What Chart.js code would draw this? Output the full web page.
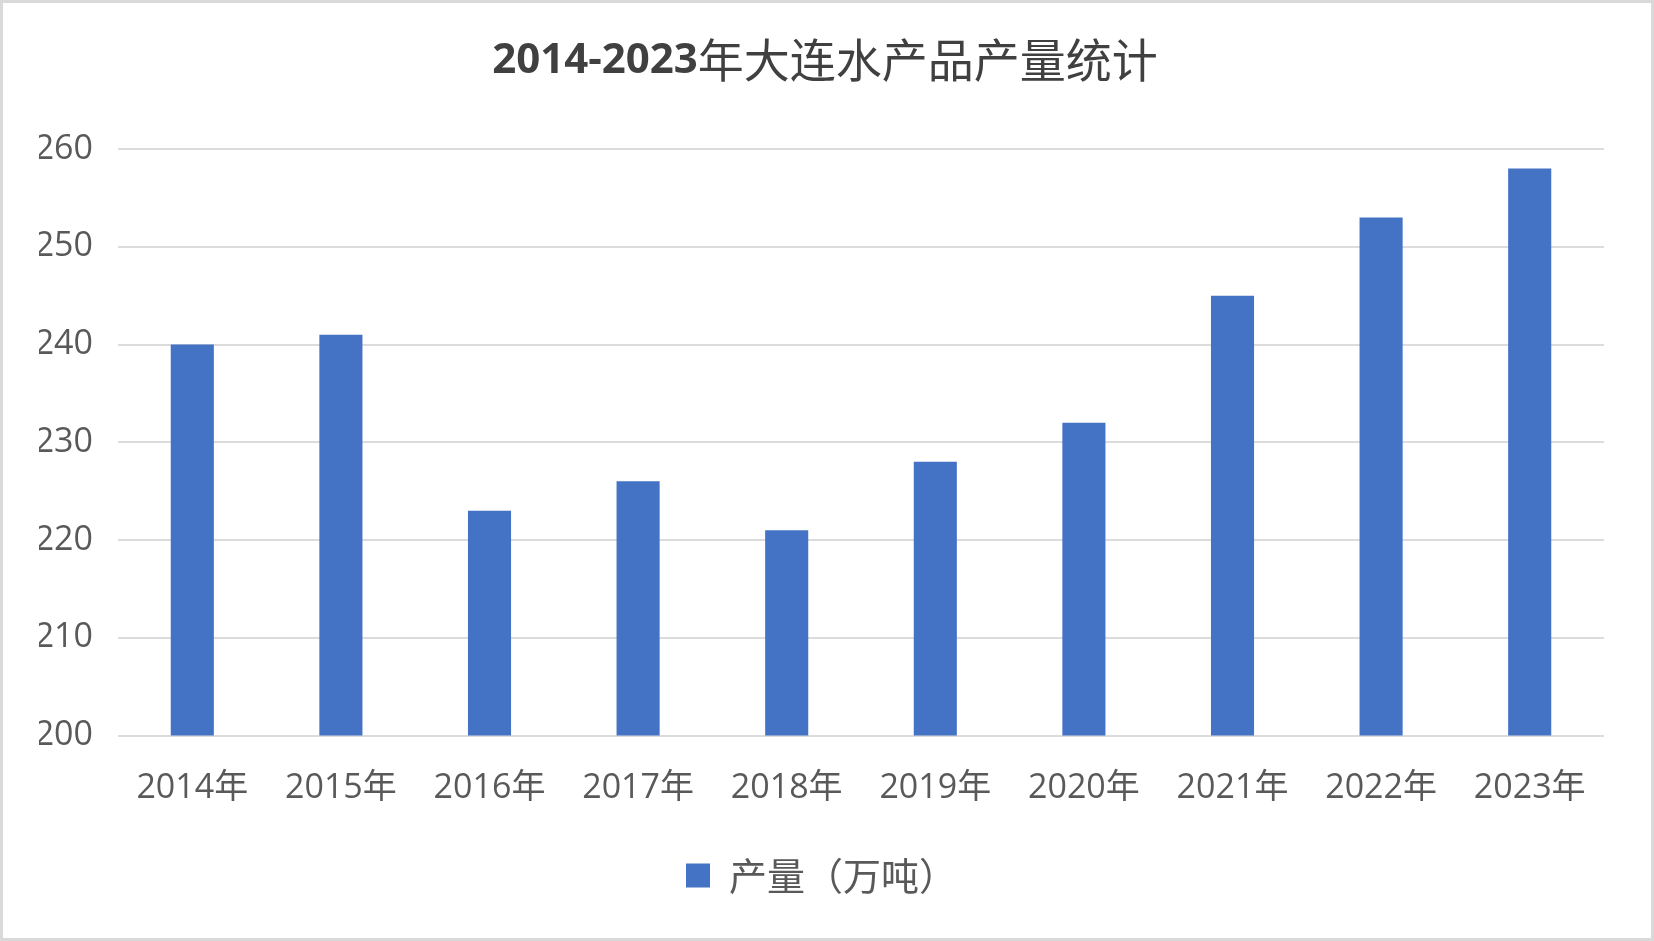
<!DOCTYPE html>
<html>
<head>
<meta charset="utf-8">
<script src="https://cdn.jsdelivr.net/npm/chart.js@4/dist/chart.umd.min.js"></script>
<style>
  html, body { margin: 0; padding: 0; background: #ffffff; }
  #wrap { width: 1654px; height: 941px; box-sizing: border-box; border: 3px solid #d9d9d9; background: #fff; }
  #c { display: block; }
</style>
</head>
<body>
<div id="wrap"><canvas id="c" width="1648" height="935"></canvas></div>
<script>
const categories = ['2014年', '2015年', '2016年', '2017年', '2018年', '2019年', '2020年', '2021年', '2022年', '2023年'];
const production = [240, 241, 223, 226, 221, 228, 232, 245, 253, 258];
const seriesName = '产量（万吨）';
const titleNumber = '2014-2023';
const titleText = '年大连水产品产量统计';
const yMin = 200, yMax = 260, yStep = 10;

const FONT = "'Open Sans', 'Noto Sans CJK SC', sans-serif";
const CJK = "'Noto Sans CJK SC', sans-serif";

const titlePlugin = {
  id: 'twoPartTitle',
  afterDraw(chart) {
    const ctx = chart.ctx;
    ctx.save();
    ctx.textBaseline = 'middle';
    ctx.fillStyle = '#404040';
    const f1 = "bold 42px 'Open Sans', sans-serif";
    const f2 = "46px " + CJK;
    ctx.font = f1; const w1 = ctx.measureText(titleNumber).width;
    ctx.font = f2; const w2 = ctx.measureText(titleText).width;
    const cx = 822, cy = 57;
    let x = cx - (w1 + w2) / 2;
    ctx.textAlign = 'left';
    ctx.font = f1; ctx.fillText(titleNumber, x, cy + 1);
    ctx.font = f2; ctx.fillText(titleText, x + w1, cy);
    ctx.restore();
  }
};

new Chart(document.getElementById('c'), {
  type: 'bar',
  data: {
    labels: categories,
    datasets: [{
      label: seriesName,
      data: production,
      backgroundColor: '#4472C4',
      borderWidth: 0,
      categoryPercentage: 1.0,
      barPercentage: 0.29
    }]
  },
  options: {
    responsive: false,
    animation: false,
    layout: { padding: { top: 146, right: 47, bottom: 33.5, left: 36 } },
    plugins: {
      title: { display: false },
      tooltip: { enabled: false },
      legend: {
        display: true,
        position: 'bottom',
        labels: {
          boxWidth: 24, boxHeight: 24,
          color: '#595959',
          font: { family: CJK, size: 38 },
          padding: 10
        }
      }
    },
    scales: {
      x: {
        grid: { display: false, drawTicks: false },
        border: { display: false },
        ticks: { color: '#595959', font: { family: FONT, size: 34 }, padding: 32, maxRotation: 0, autoSkip: false },
        afterFit(scale) { scale.height = 111; }
      },
      y: {
        min: yMin, max: yMax,
        grid: { color: '#dcdcdc', lineWidth: 2, drawTicks: false },
        border: { display: false },
        ticks: { stepSize: yStep, color: '#595959', font: { family: FONT, size: 34 }, padding: 25 },
        afterFit(scale) { scale.width = 79; }
      }
    }
  },
  plugins: [titlePlugin]
});
</script>
</body>
</html>
